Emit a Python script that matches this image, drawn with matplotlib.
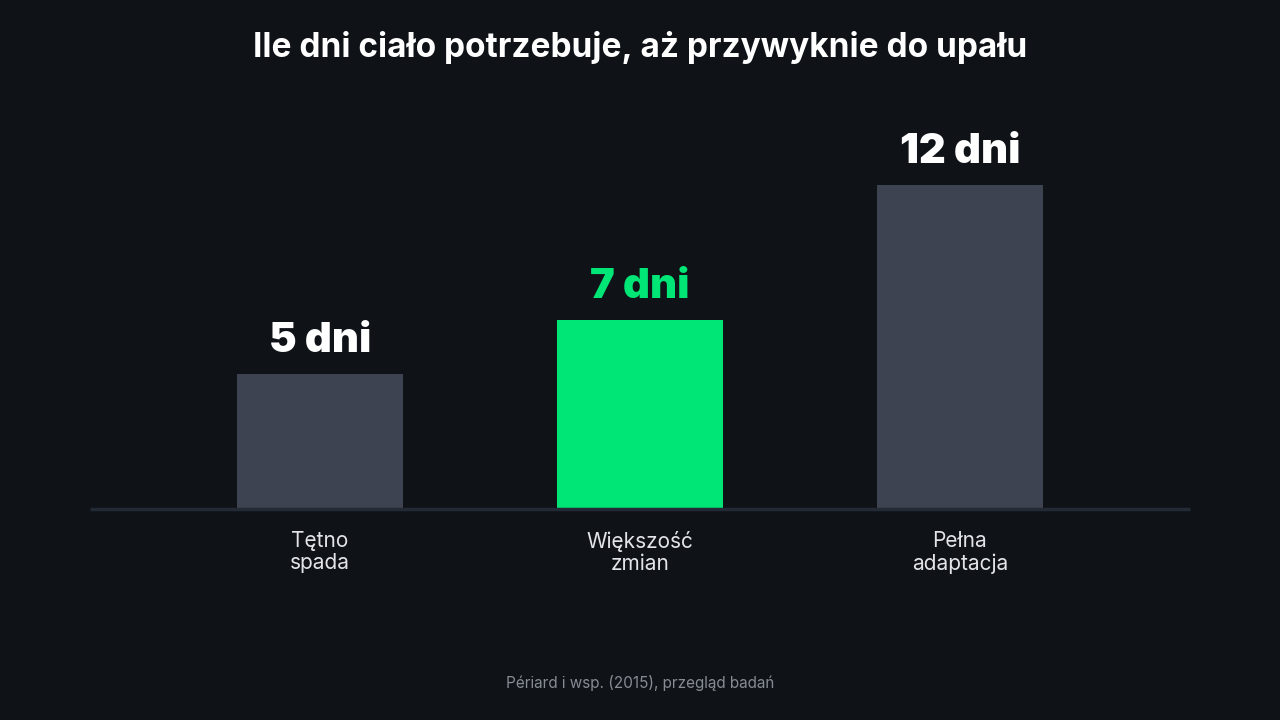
import matplotlib
matplotlib.use("Agg")
import matplotlib.pyplot as plt

categories = ["Tętno\nspada", "Większość\nzmian", "Pełna\nadaptacja"]
values = [5, 7, 12]
value_labels = ["5 dni", "7 dni", "12 dni"]
highlight = [False, True, False]

title = "Ile dni ciało potrzebuje, aż przywyknie do upału"
source = "Périard i wsp. (2015), przegląd badań"

BG = "#0f1318"
GREY = "#3d4350"
GREEN = "#00e676"

plt.rcParams['font.family'] = ['Inter', 'DejaVu Sans']

fig = plt.figure(figsize=(12.8, 7.2), dpi=100, facecolor=BG)
ax = fig.add_axes([90/1280, (720-509)/720, 1100/1280, 405/720])
ax.set_facecolor(BG)

x = list(range(len(categories)))
colors = [GREEN if h else GREY for h in highlight]
ax.bar(x, values, width=0.52, color=colors, zorder=2)

ax.set_xlim(-0.71875, 2.71875)
ax.set_ylim(0, 15)

for xi, v, lab, h in zip(x, values, value_labels, highlight):
    ax.annotate(lab, (xi, v), xytext=(0, 10), textcoords='offset points',
                ha='center', va='bottom', fontsize=30, fontweight=900,
                color=GREEN if h else 'white')

for s in ['top', 'right', 'left']:
    ax.spines[s].set_visible(False)
ax.spines['bottom'].set_color('#232a35')
ax.spines['bottom'].set_linewidth(2.5)
ax.spines['bottom'].set_capstyle('butt')
ax.set_yticks([])
ax.set_xticks(x)
ax.set_xticklabels(categories, fontsize=15, color='#e2e4e8', linespacing=1.12)
ax.tick_params(axis='x', length=0, pad=16)

fig.text(0.5, 1 - 48/720, title, ha='center', va='center', fontsize=24,
         fontweight='bold', color='white')
fig.text(0.5, 1 - 683/720, source, ha='center', va='center', fontsize=11,
         color='#868b94')

fig.savefig("out.png", dpi=100, facecolor=BG)
